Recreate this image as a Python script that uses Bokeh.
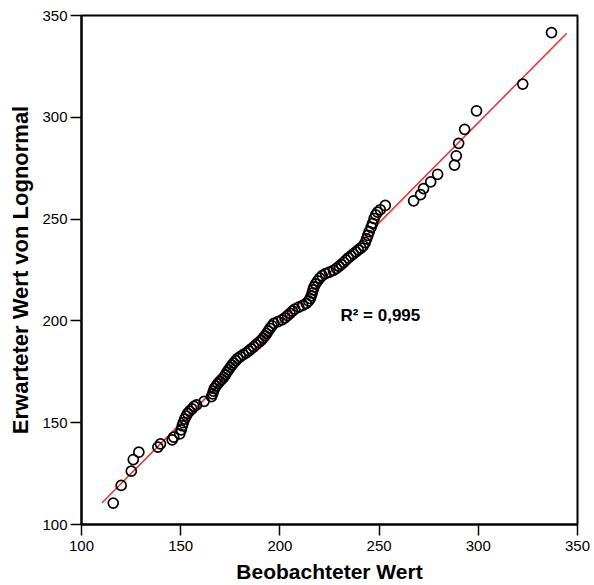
from bokeh.plotting import figure
from bokeh.models import FixedTicker, Range1d, Label
from bokeh.embed import file_html
from bokeh.resources import INLINE

observed = [
    116.0, 120.0, 125.1, 126.1, 128.9, 138.5, 139.8, 145.7, 146.5, 149.5,
    150.3, 150.8, 151.3, 152.0, 152.8, 153.5, 154.5, 155.7, 156.7, 158.0,
    161.8, 165.5, 166.1, 166.5, 167.0, 167.8, 168.7, 169.7, 170.7, 171.7,
    172.5, 173.3, 174.1, 175.0, 175.8, 176.7, 177.7, 178.7, 180.0, 181.5,
    183.0, 184.3, 185.5, 186.8, 188.0, 189.3, 190.5, 191.5, 192.5, 193.3,
    194.1, 195.0, 196.0, 197.0, 199.0, 201.0, 202.5, 203.8, 205.1, 206.3,
    207.5, 209.5, 211.5, 213.3, 214.5, 215.3, 215.8, 216.3, 216.7, 217.2,
    218.0, 219.0, 220.1, 221.3, 223.0, 225.0, 227.0, 228.5, 229.8, 231.0,
    232.2, 233.3, 234.5, 235.8, 237.0, 238.3, 239.5, 240.8, 242.0, 243.0,
    243.7, 244.3, 245.0, 246.0, 246.7, 247.5, 248.3, 249.2, 250.6, 253.1,
    267.4, 270.9, 272.4, 276.0, 279.5, 288.0, 288.9, 290.1, 293.1, 299.1,
    322.4, 336.9,
]
expected = [
    110.5, 119.2, 126.2, 131.9, 135.5, 138.0, 139.6, 141.6, 142.9, 144.5,
    146.5, 148.5, 150.0, 151.8, 153.3, 154.6, 155.7, 156.8, 158.0, 158.8,
    160.5, 162.8, 164.2, 165.5, 166.8, 168.0, 169.2, 170.3, 171.3, 172.3,
    173.5, 174.8, 176.0, 177.2, 178.3, 179.4, 180.5, 181.6, 182.5, 183.4,
    184.3, 185.3, 186.3, 187.3, 188.3, 189.4, 190.4, 191.5, 192.6, 193.8,
    195.0, 196.3, 197.6, 198.8, 199.6, 200.5, 201.5, 202.6, 203.7, 204.8,
    205.8, 206.8, 207.6, 208.6, 209.8, 211.0, 212.3, 213.7, 215.2, 216.7,
    218.2, 219.7, 221.0, 222.2, 223.2, 224.0, 224.8, 225.8, 226.8, 227.8,
    228.8, 229.9, 230.9, 231.9, 232.9, 233.9, 234.9, 235.8, 236.9, 238.5,
    240.3, 242.0, 243.8, 246.0, 247.9, 250.3, 252.1, 253.4, 254.6, 256.7,
    259.0, 262.0, 265.0, 268.3, 272.0, 276.5, 281.1, 287.2, 294.1, 303.2,
    316.3, 341.6,
]

# Fitted reference line end points
fit_x = [110.4, 344.6]
fit_y = [110.7, 341.3]

x_ticks = [100, 150, 200, 250, 300, 350]
y_ticks = [100, 150, 200, 250, 300, 350]

r2_text = "R² = 0,995"
x_title = "Beobachteter Wert"
y_title = "Erwarteter Wert von Lognormal"

p = figure(
    width=594, height=585,
    x_range=Range1d(100, 350), y_range=Range1d(100, 350),
    output_backend="svg", toolbar_location=None,
    min_border_left=81, min_border_right=17,
    min_border_top=15, min_border_bottom=61,
)
p.grid.visible = False
p.background_fill_color = "white"
p.border_fill_color = "white"
p.outline_line_color = "black"
p.outline_line_width = 2
p.outline_line_alpha = 1.0

p.line(fit_x, fit_y, line_color="#ee3333", line_width=1.6)
p.scatter(observed, expected, marker="circle", size=10,
          fill_color=None, line_color="black", line_width=1.7)

p.xaxis.ticker = FixedTicker(ticks=x_ticks)
p.yaxis.ticker = FixedTicker(ticks=y_ticks)
for ax in (p.xaxis[0], p.yaxis[0]):
    ax.axis_line_width = 2
    ax.axis_line_color = "black"
    ax.major_tick_out = 11
    ax.major_tick_in = 0
    ax.major_tick_line_width = 1.5
    ax.major_tick_line_color = "black"
    ax.minor_tick_line_color = None
    ax.major_label_text_font = "Liberation Sans"
    ax.major_label_text_font_size = "15px"
    ax.major_label_text_color = "black"
    ax.axis_label_text_font = "Liberation Sans"
    ax.axis_label_text_font_style = "bold"
    ax.axis_label_text_color = "black"

p.xaxis.axis_label = x_title
p.yaxis.axis_label = y_title
p.xaxis.axis_label_text_font_size = "21px"
p.yaxis.axis_label_text_font_size = "22px"
p.xaxis.major_label_standoff = 5
p.yaxis.major_label_standoff = 3
p.xaxis.axis_label_standoff = 6
p.yaxis.axis_label_standoff = 6

p.add_layout(Label(x=230.5, y=202.6, text=r2_text,
                   text_font="Liberation Sans", text_font_style="bold",
                   text_font_size="17px", text_color="black",
                   text_baseline="alphabetic"))

open("out.html", "w").write(file_html(p, INLINE))
